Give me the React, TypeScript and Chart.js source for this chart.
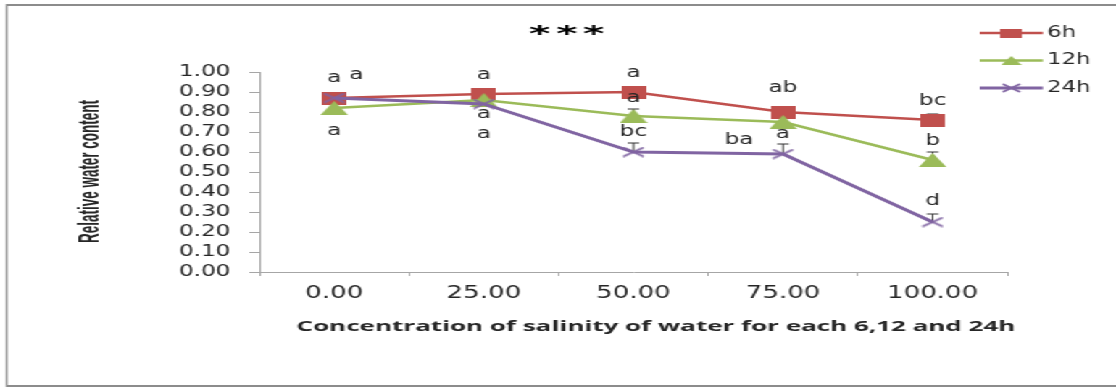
import React, { useEffect, useRef } from "react";
import { Chart, registerables } from "chart.js";

Chart.register(...registerables);

// ---------- data ----------
const categories = ["0.00", "25.00", "50.00", "75.00", "100.00"];
const seriesNames = ["6h", "12h", "24h"];
const rwc6h = [0.87, 0.89, 0.9, 0.8, 0.76];
const rwc12h = [0.82, 0.86, 0.78, 0.75, 0.56];
const rwc24h = [0.87, 0.84, 0.6, 0.59, 0.25];
const err6h = [0, 0, 0, 0, 0.03];
const err12h = [0, 0, 0.035, 0, 0.04];
const err24h = [0, 0, 0.045, 0.05, 0.04];

// significance letters: text, category index, value level, shift (in category widths)
const letterText = ["a", "a", "a", "a", "a", "a", "a", "a", "bc", "ab", "a", "ba", "bc", "b", "d"];
const letterCat = [0, 0, 0, 1, 1, 1, 2, 2, 2, 3, 3, 3, 4, 4, 4];
const letterLevel = [0.975, 0.99, 0.71, 0.99, 0.795, 0.695, 1.0, 0.875, 0.705, 0.925, 0.695, 0.665, 0.86, 0.66, 0.36];
const letterShift = [0, 0.147, 0, 0, 0, 0, 0, 0, 0, 0, 0, -0.294, 0, 0, 0];

const chartTitle = "***";
const xTitle = "Concentration of salinity of water for each 6,12 and 24h";
const yTitle = "Relative water content";

// ---------- layout / style ----------
const W = 770;
const H = 388;
const S = 1116 / W;
const RED = "#C0504D";
const GREEN = "#9BBB59";
const PURPLE = "#8064A2";
const AXIS = "#a6a6a6";
const TXT = "#262626";

function makeMarker(kind: string, color: string, w: number, h: number): HTMLCanvasElement {
  const c = document.createElement("canvas");
  c.width = w;
  c.height = h;
  const g = c.getContext("2d")!;
  if (kind === "square") {
    g.fillStyle = color;
    g.fillRect(0, 0, w, h);
  } else if (kind === "triangle") {
    g.fillStyle = color;
    g.beginPath();
    g.moveTo(w / 2, 0);
    g.lineTo(w, h);
    g.lineTo(0, h);
    g.closePath();
    g.fill();
  } else {
    g.strokeStyle = color;
    g.lineWidth = 1.6;
    g.beginPath();
    g.moveTo(1, 1);
    g.lineTo(w - 1, h - 1);
    g.moveTo(w - 1, 1);
    g.lineTo(1, h - 1);
    g.stroke();
  }
  return c;
}

function drawScaledText(
  ctx: CanvasRenderingContext2D,
  text: string,
  font: string,
  x: number,
  y: number,
  sx: number,
  align: CanvasTextAlign,
  baseline: CanvasTextBaseline,
  rotate = 0
) {
  ctx.save();
  ctx.font = font;
  ctx.fillStyle = TXT;
  ctx.textAlign = align;
  ctx.textBaseline = baseline;
  ctx.translate(x, y);
  if (rotate) ctx.rotate(rotate);
  ctx.scale(sx, 1);
  ctx.fillText(text, 0, 0);
  ctx.restore();
}

export default function App() {
  const ref = useRef<HTMLCanvasElement | null>(null);

  useEffect(() => {
    if (!ref.current) return;
    const markers = [
      makeMarker("square", RED, 17, 13),
      makeMarker("triangle", GREEN, 19, 14),
      makeMarker("x", PURPLE, 16, 11),
    ];
    const legendMarkers = [
      makeMarker("square", RED, 15, 9),
      makeMarker("triangle", GREEN, 14, 9),
      makeMarker("x", PURPLE, 14, 10),
    ];
    const values = [rwc6h, rwc12h, rwc24h];
    const errors = [err6h, err12h, err24h];
    const colors = [RED, GREEN, PURPLE];
    const widths = [2.5, 2.6, 3];

    const decor = {
      id: "decor",
      beforeDraw(chart: any) {
        const ctx = chart.ctx as CanvasRenderingContext2D;
        ctx.save();
        ctx.fillStyle = "#ffffff";
        ctx.fillRect(0, 0, W, H);
        ctx.strokeStyle = "#8c8c8c";
        ctx.lineWidth = 2;
        ctx.beginPath();
        ctx.moveTo(4.6, 5);
        ctx.lineTo(W, 5);
        ctx.moveTo(4.6, 386);
        ctx.lineTo(W, 386);
        ctx.stroke();
        ctx.lineWidth = 1.4;
        ctx.beginPath();
        ctx.moveTo(4.6, 4);
        ctx.lineTo(4.6, 387);
        ctx.stroke();
        ctx.restore();
      },
      beforeDatasetsDraw(chart: any) {
        const ctx = chart.ctx as CanvasRenderingContext2D;
        const ys = chart.scales.y;
        ctx.save();
        ctx.strokeStyle = "#333333";
        ctx.lineWidth = 1;
        for (let i = 0; i < values.length; i++) {
          const meta = chart.getDatasetMeta(i);
          for (let j = 0; j < values[i].length; j++) {
            const e = errors[i][j];
            if (!e) continue;
            const x = meta.data[j].x;
            const y0 = ys.getPixelForValue(values[i][j]);
            const y1 = ys.getPixelForValue(values[i][j] + e);
            ctx.beginPath();
            ctx.moveTo(x, y0);
            ctx.lineTo(x, y1);
            ctx.moveTo(x - 4, y1);
            ctx.lineTo(x + 4, y1);
            ctx.stroke();
          }
        }
        ctx.restore();
      },
      afterDatasetsDraw(chart: any) {
        const ctx = chart.ctx as CanvasRenderingContext2D;
        const xs = chart.scales.x;
        const ys = chart.scales.y;
        const cw = xs.getPixelForValue(1) - xs.getPixelForValue(0);
        for (let k = 0; k < letterText.length; k++) {
          const x = xs.getPixelForValue(letterCat[k]) + letterShift[k] * cw;
          const y = ys.getPixelForValue(letterLevel[k]) + 1;
          drawScaledText(ctx, letterText[k], "16px 'DejaVu Sans'", x, y, 1, "center", "middle");
        }
      },
      afterDraw(chart: any) {
        const ctx = chart.ctx as CanvasRenderingContext2D;
        // title *** (each star drawn as text glyph, fitted to its box)
        const stars = chartTitle.split("");
        ctx.save();
        ctx.font = "bold 30px 'DejaVu Sans'";
        ctx.fillStyle = "#000";
        ctx.textAlign = "center";
        ctx.textBaseline = "alphabetic";
        for (let i = 0; i < stars.length; i++) {
          const m = ctx.measureText(stars[i]);
          const asc = m.actualBoundingBoxAscent;
          const desc = m.actualBoundingBoxDescent;
          const gw = m.actualBoundingBoxLeft + m.actualBoundingBoxRight;
          const cx = 372.6 + i * 18.6;
          ctx.save();
          ctx.translate(cx, 30);
          ctx.scale(15 / gw, 11 / (asc + desc));
          ctx.fillText(stars[i], (m.actualBoundingBoxLeft - m.actualBoundingBoxRight) / 2, (asc - desc) / 2);
          ctx.restore();
        }
        ctx.restore();

        // x title
        ctx.save();
        ctx.font = "bold 15px 'Open Sans'";
        const mx = ctx.measureText(xTitle).width;
        ctx.restore();
        drawScaledText(ctx, xTitle, "bold 15px 'Open Sans'", 452.6, 331, 496 / mx, "center", "alphabetic");

        // y title
        ctx.save();
        ctx.font = "bold 21px 'Liberation Sans'";
        const my = ctx.measureText(yTitle).width;
        ctx.restore();
        drawScaledText(ctx, yTitle, "bold 21px 'Liberation Sans'", 67.5, 171.5, 143 / my, "center", "alphabetic", -Math.PI / 2);

        // legend
        for (let i = 0; i < seriesNames.length; i++) {
          const y = 33 + i * 27.5;
          ctx.save();
          ctx.strokeStyle = colors[i];
          ctx.lineWidth = widths[i];
          ctx.beginPath();
          ctx.moveTo(676, y);
          ctx.lineTo(719.6, y);
          ctx.stroke();
          const m = legendMarkers[i];
          ctx.drawImage(m, 697.8 - m.width / 2, y - m.height / 2);
          ctx.restore();
          drawScaledText(ctx, seriesNames[i], "15px 'DejaVu Sans'", 722.4, y, 1.05, "left", "middle");
        }
      },
    };

    const chart = new Chart(ref.current, {
      type: "line",
      data: {
        labels: categories,
        datasets: values.map((v, i) => ({
          label: seriesNames[i],
          data: v,
          borderColor: colors[i],
          backgroundColor: colors[i],
          borderWidth: widths[i],
          pointStyle: markers[i] as any,
          pointRadius: 6,
          tension: 0,
          fill: false,
          order: 3 - i,
        })),
      },
      options: {
        responsive: false,
        animation: false,
        layout: { padding: { left: 0, right: 74.9, top: 72, bottom: 0 } },
        plugins: {
          legend: { display: false },
          tooltip: { enabled: false },
          title: { display: false },
        },
        scales: {
          x: {
            offset: true,
            grid: { offset: true, drawOnChartArea: false, drawTicks: true, tickLength: 4, color: AXIS },
            border: { color: AXIS, width: 1 },
            ticks: { font: { family: "'DejaVu Sans'", size: 18 }, color: TXT, padding: 7, maxRotation: 0, autoSkip: false },
            afterFit: (s: any) => {
              s.height = 116;
            },
          },
          y: {
            min: 0,
            max: 1,
            ticks: {
              stepSize: 0.1,
              autoSkip: false,
              callback: (v: any) => Number(v).toFixed(2),
              font: { family: "'DejaVu Sans'", size: 16 },
              color: TXT,
              padding: 13,
            },
            grid: { drawOnChartArea: false, drawTicks: true, tickLength: 7, color: AXIS },
            border: { color: AXIS, width: 1 },
            afterFit: (s: any) => {
              s.width = 179;
            },
          },
        },
      },
      plugins: [decor],
    } as any);

    return () => chart.destroy();
  }, []);

  return (
    <div
      style={{
        position: "absolute",
        left: 0,
        top: 0,
        width: W,
        height: H,
        transform: `scaleX(${S})`,
        transformOrigin: "0 0",
        background: "#fff",
      }}
    >
      <canvas ref={ref} width={W} height={H} style={{ display: "block" }} />
    </div>
  );
}
